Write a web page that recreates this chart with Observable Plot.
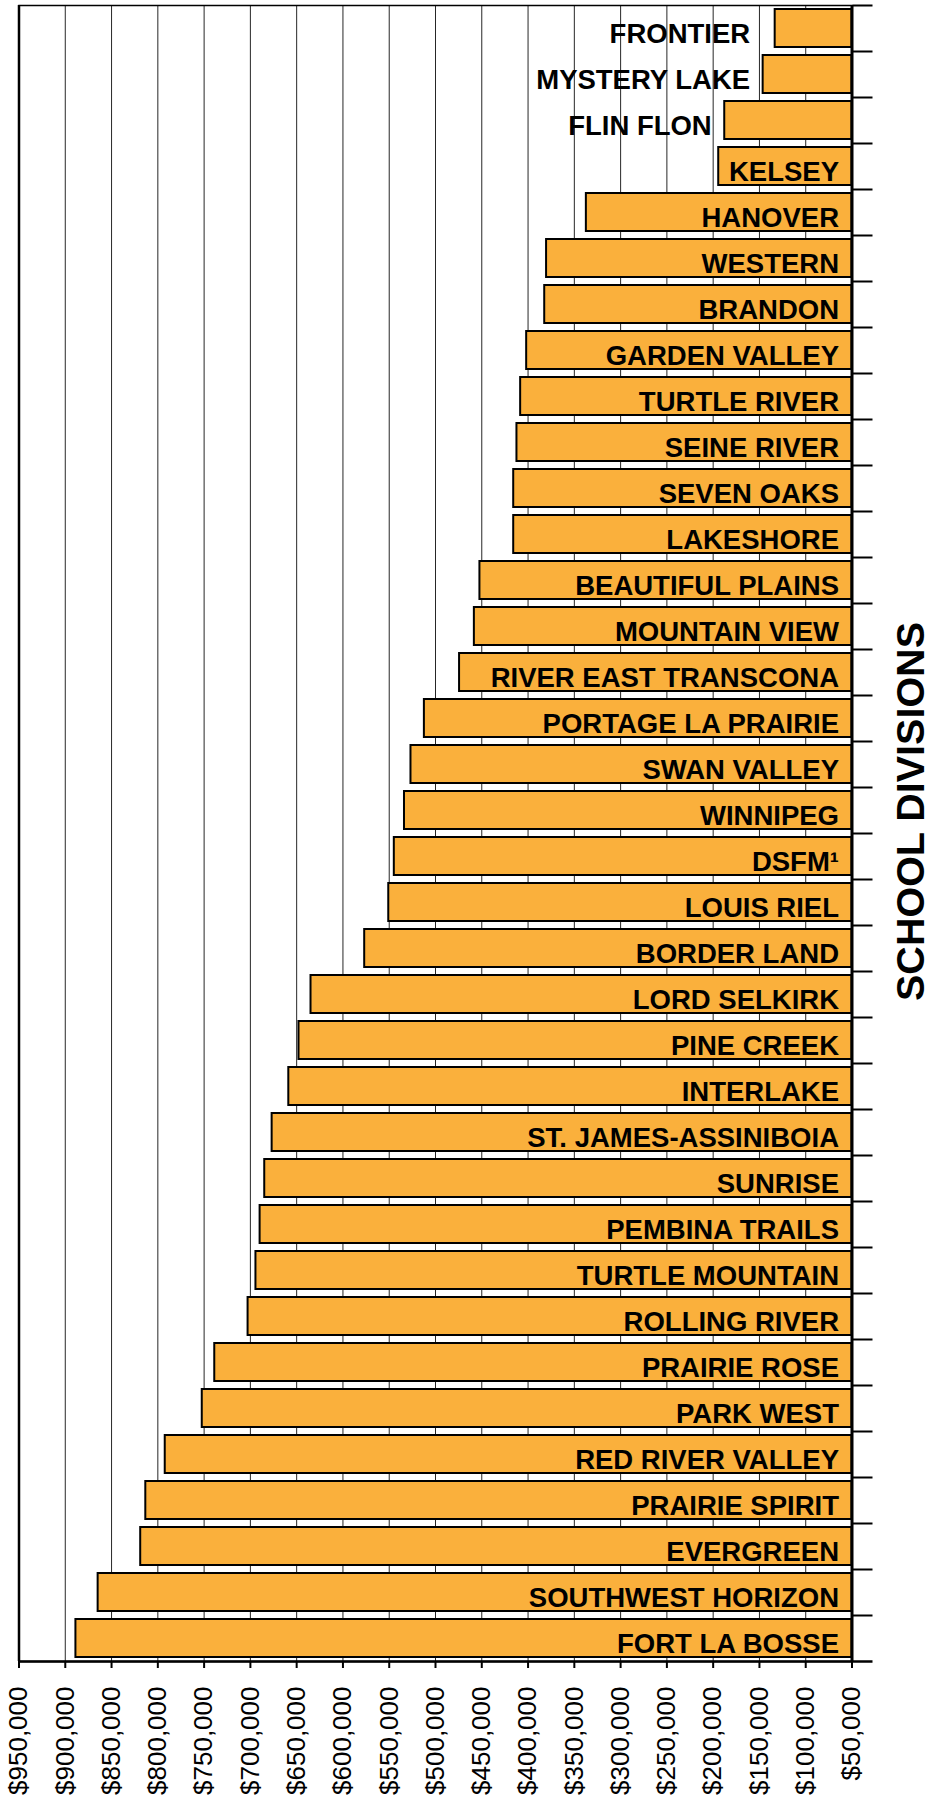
<!DOCTYPE html>
<html>
<head>
<meta charset="utf-8">
<script src="https://cdn.jsdelivr.net/npm/d3@7"></script>
<script src="https://cdn.jsdelivr.net/npm/@observablehq/plot@0.6"></script>
<style>
  html, body { margin: 0; padding: 0; background: #fff; }
  #chart svg { display: block; }
</style>
</head>
<body>
<div id="chart"></div>
<script>
const divisions = ["FRONTIER","MYSTERY LAKE","FLIN FLON","KELSEY","HANOVER","WESTERN","BRANDON","GARDEN VALLEY","TURTLE RIVER","SEINE RIVER","SEVEN OAKS","LAKESHORE","BEAUTIFUL PLAINS","MOUNTAIN VIEW","RIVER EAST TRANSCONA","PORTAGE LA PRAIRIE","SWAN VALLEY","WINNIPEG","DSFM\u00B9","LOUIS RIEL","BORDER LAND","LORD SELKIRK","PINE CREEK","INTERLAKE","ST. JAMES-ASSINIBOIA","SUNRISE","PEMBINA TRAILS","TURTLE MOUNTAIN","ROLLING RIVER","PRAIRIE ROSE","PARK WEST","RED RIVER VALLEY","PRAIRIE SPIRIT","EVERGREEN","SOUTHWEST HORIZON","FORT LA BOSSE"];
const amounts = [133000,146000,187500,194000,337000,380000,382000,401500,408000,412000,415500,415500,452000,458000,474000,512000,526500,533500,544500,550500,576500,634500,647500,658500,676500,684500,689500,694000,702500,738500,752000,792000,813000,818500,864500,888500];
const xTicks = [950000,900000,850000,800000,750000,700000,650000,600000,550000,500000,450000,400000,350000,300000,250000,200000,150000,100000,50000];
const axisTitle = "SCHOOL DIVISIONS";

const W = 930, H = 1797;
const mTop = 5, mBottom = 136, mLeft = 18.5, mRight = 78.5;
const FONT = "'Liberation Sans', Arial, Helvetica, sans-serif";
const labelSize = 27.5;
const labelPad = 13;

const xDomain = [950000, 50000];
const xs = Plot.scale({x: {domain: xDomain, range: [mLeft, W - mRight]}});

// measure label widths to decide whether a label fits inside its bar
const ctx = document.createElement("canvas").getContext("2d");
ctx.font = `bold ${labelSize}px ${FONT}`;

const data = divisions.map((name, i) => {
  const value = amounts[i];
  const barPx = xs.apply(50000) - xs.apply(value);
  const tw = ctx.measureText(name).width;
  return {name, value, outside: tw + labelPad > barPx};
});
// outside labels of near-equal neighbouring bars share one alignment
data.forEach((d, i) => {
  d.labelX = d.outside ? d.value : 50000;
  const n = data[i + 1];
  if (d.outside && n && n.outside && Math.abs(n.value - d.value) < 20000) d.labelX = Math.max(d.value, n.value);
});

const step = (H - mTop - mBottom) / divisions.length;
const last = divisions[divisions.length - 1];

const chart = Plot.plot({
  width: W,
  height: H,
  marginTop: mTop,
  marginBottom: mBottom,
  marginLeft: mLeft,
  marginRight: mRight,
  style: {fontFamily: FONT, background: "#fff", color: "#000", overflow: "visible"},
  x: {domain: xDomain, axis: null},
  y: {domain: divisions, paddingInner: 0.17, paddingOuter: 0.085, axis: null},
  marks: [
    Plot.gridX(xTicks, {stroke: "#000", strokeOpacity: 0.85, strokeWidth: 1}),
    Plot.frame({stroke: "#000", strokeWidth: 1.5}),
    Plot.ruleX([xDomain[0]], {stroke: "#000", strokeWidth: 2.5}),
    Plot.barX(data, {
      y: "name",
      x1: 50000,
      x2: "value",
      fill: "#FAB03C",
      stroke: "#000",
      strokeWidth: 2
    }),
    Plot.text(data, {
      y: "name",
      x: "labelX",
      text: "name",
      textAnchor: "end",
      dx: -labelPad,
      dy: 6,
      fontSize: labelSize,
      fontWeight: "bold",
      fill: "#000"
    }),
    Plot.ruleX([50000], {stroke: "#000", strokeWidth: 3}),
    Plot.ruleY([last], {dy: step / 2, stroke: "#000", strokeWidth: 2.5}),
    Plot.axisX(xTicks, {
      anchor: "bottom",
      tickFormat: d3.format("$,"),
      tickRotate: -90,
      tickSize: 7,
      tickPadding: 18,
      fontSize: 26,
      strokeWidth: 2,
      label: null
    }),
    Plot.axisY(divisions, {
      anchor: "right",
      tickSize: 20,
      dy: -step / 2,
      fill: "none",
      strokeWidth: 2,
      label: null
    }),
    Plot.axisY([last], {
      anchor: "right",
      tickSize: 20,
      dy: step / 2,
      fill: "none",
      strokeWidth: 2.5,
      label: null
    }),
    Plot.text([axisTitle], {
      frameAnchor: "right",
      textAnchor: "middle",
      lineAnchor: "middle",
      rotate: -90,
      dx: 59,
      dy: -22,
      text: d => d,
      fontSize: 39.5,
      fontWeight: "bold",
      fill: "#000"
    })
  ]
});

document.getElementById("chart").appendChild(chart);
</script>
</body>
</html>
